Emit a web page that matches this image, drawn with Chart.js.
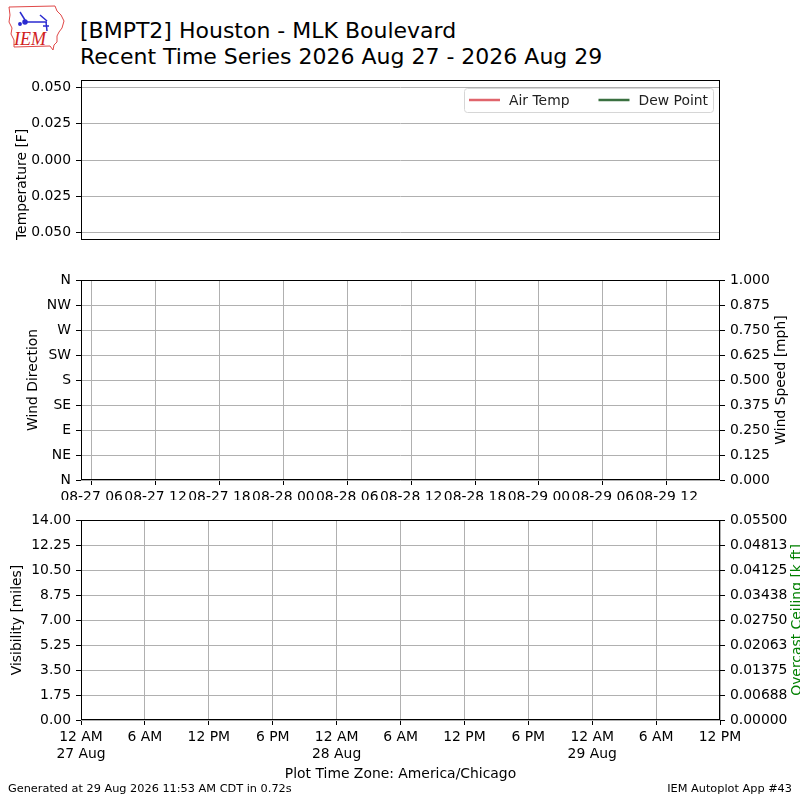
<!DOCTYPE html>
<html>
<head>
<meta charset="utf-8">
<script src="https://cdn.jsdelivr.net/npm/chart.js@4"></script>
<style>
  body { margin: 0; background: #fff; }
  #wrap { position: relative; width: 800px; height: 800px; overflow: hidden; font-family: "DejaVu Sans", sans-serif; color: #000; }
  #wrap canvas { position: absolute; left: 0; }
  .txt { position: absolute; white-space: nowrap; }
</style>
</head>
<body>
<div id="wrap">
  <svg class="txt" style="left:0;top:0" width="80" height="60" viewBox="0 0 80 60">
    <polyline fill="none" stroke="#e04848" stroke-width="1"
      points="9,7 55,6 57,11 61,15 64,21 62,28 59,32 57,36 57,42 54,45 53,50 50,46 14,47 14,40 11,34 12,28 9,22 10,15 9,7"/>
    <g stroke="#2a2ad0" stroke-width="1.5" fill="#2a2ad0">
      <line x1="24" y1="22" x2="47" y2="22"/>
      <circle cx="25" cy="22" r="2"/>
      <line x1="20" y1="12" x2="25" y2="20"/>
      <line x1="40" y1="15" x2="47" y2="21"/>
      <line x1="46" y1="22" x2="47" y2="31"/>
      <line x1="43" y1="26" x2="49" y2="26"/>
      <circle cx="20" cy="24" r="1.2"/>
    </g>
    <text x="14" y="45" fill="#d02020" font-family="Liberation Serif, serif" font-style="italic" font-size="18">IEM</text>
  </svg>
  <div class="txt" style="left:80px;top:18px;font-size:22px;line-height:26px">[BMPT2] Houston - MLK Boulevard<br>Recent Time Series 2026 Aug 27 - 2026 Aug 29</div>
  <canvas id="tempChart" width="800" height="200" style="top:60px"></canvas>
  <canvas id="windChart" width="800" height="240" style="top:260px"></canvas>
  <canvas id="visChart" width="800" height="300" style="top:500px"></canvas>
  <div class="txt" style="left:8px;top:782px;font-size:11.3px">Generated at 29 Aug 2026 11:53 AM CDT in 0.72s</div>
  <div class="txt" style="right:8px;top:782px;font-size:11.3px">IEM Autoplot App #43</div>
</div>
<script>
// hours since 27 Aug 00:00 CDT; no observations in the window
var airTemp = [];
var dewPoint = [];
var windDir = [];
var windSpeed = [];
var visibility = [];
var ceiling = [];

var tempTicks = [-0.05, -0.025, 0, 0.025, 0.05];
var tempTickLabels = ['0.050', '0.025', '0.000', '0.025', '0.050'];
var dirTickLabels = ['N', 'NE', 'E', 'SE', 'S', 'SW', 'W', 'NW', 'N'];
var speedTickLabels = ['0.000', '0.125', '0.250', '0.375', '0.500', '0.625', '0.750', '0.875', '1.000'];
var utcTickHours = [1, 7, 13, 19, 25, 31, 37, 43, 49, 55];
var utcTickLabels = ['08-27 06', '08-27 12', '08-27 18', '08-28 00', '08-28 06',
                     '08-28 12', '08-28 18', '08-29 00', '08-29 06', '08-29 12'];
var localTickHours = [0, 6, 12, 18, 24, 30, 36, 42, 48, 54, 60];
var localTickLabels = [['12 AM', '27 Aug'], '6 AM', '12 PM', '6 PM', ['12 AM', '28 Aug'], '6 AM',
                       '12 PM', '6 PM', ['12 AM', '29 Aug'], '6 AM', '12 PM'];
var visTickLabels = ['0.00', '1.75', '3.50', '5.25', '7.00', '8.75', '10.50', '12.25', '14.00'];
var ceilTickLabels = ['0.00000', '0.00688', '0.01375', '0.02063', '0.02750',
                      '0.03438', '0.04125', '0.04813', '0.05500'];

var FONT = { family: 'DejaVu Sans', size: 13.9 };
var GRID = '#b0b0b0';
Chart.defaults.color = '#000';
Chart.defaults.font.family = 'DejaVu Sans';

function setTicks(values) {
  return function (axis) { axis.ticks = values.map(function (v) { return { value: v }; }); };
}
function fixWidth(w) { return function (axis) { axis.width = w; }; }
function fixHeight(h) { return function (axis) { axis.height = h; }; }
function fromList(list) { return function (v, i) { return list[i]; }; }

var framePlugin = {
  id: 'frame',
  afterDraw: function (chart) {
    var a = chart.chartArea, c = chart.ctx;
    c.save();
    c.strokeStyle = '#000';
    c.lineWidth = 1;
    c.strokeRect(Math.round(a.left) + 0.5, Math.round(a.top) + 0.5,
                 Math.round(a.right - a.left) - 1, Math.round(a.bottom - a.top) - 1);
    c.restore();
  }
};

// right-hand axis titles read bottom-to-top, like matplotlib's twinx labels
var sideTitle = {
  id: 'sideTitle',
  afterDraw: function (chart, args, opts) {
    if (!opts.text) return;
    var a = chart.chartArea, c = chart.ctx;
    c.save();
    c.translate(opts.x, (a.top + a.bottom) / 2);
    c.rotate(-Math.PI / 2);
    c.font = FONT.size + 'px ' + FONT.family;
    c.fillStyle = opts.color || '#000';
    c.textAlign = 'center';
    c.textBaseline = 'middle';
    c.fillText(opts.text, 0, 0);
    c.restore();
  }
};

var innerLegend = {
  id: 'innerLegend',
  afterDraw: function (chart) {
    var a = chart.chartArea, c = chart.ctx;
    var sets = chart.data.datasets;
    c.save();
    c.font = FONT.size + 'px ' + FONT.family;
    var widths = sets.map(function (d) { return c.measureText(d.label).width; });
    var w = 5 + 5 + (sets.length - 1) * 29;
    widths.forEach(function (tw) { w += 40 + tw; });
    var h = 24;
    var x0 = a.right - 7 - w, y0 = a.top + 8;
    c.beginPath();
    c.roundRect(x0 + 0.5, y0 + 0.5, w, h, 3);
    c.fillStyle = 'rgba(255,255,255,0.8)';
    c.fill();
    c.strokeStyle = '#d6d6d6';
    c.stroke();
    var x = x0 + 5, yc = y0 + h / 2;
    sets.forEach(function (d, i) {
      c.strokeStyle = d.borderColor;
      c.lineWidth = 2.5;
      c.beginPath();
      c.moveTo(x, yc);
      c.lineTo(x + 31, yc);
      c.stroke();
      c.fillStyle = '#222';
      c.textBaseline = 'middle';
      c.fillText(d.label, x + 40, yc + 1);
      x += 40 + widths[i] + 29;
    });
    c.restore();
  }
};

var common = {
  responsive: false,
  animation: false
};

new Chart(document.getElementById('tempChart'), {
  type: 'line',
  data: {
    datasets: [
      { label: 'Air Temp', data: airTemp, borderColor: '#e0646c', borderWidth: 2 },
      { label: 'Dew Point', data: dewPoint, borderColor: '#3a7040', borderWidth: 2 }
    ]
  },
  options: Object.assign({}, common, {
    plugins: { legend: { display: false }, tooltip: { enabled: false } },
    layout: { padding: { top: 20, bottom: 20, left: 0, right: 80 } },
    scales: {
      x: { type: 'linear', min: 0, max: 60, display: false },
      y: {
        min: -0.055, max: 0.055,
        afterBuildTicks: setTicks(tempTicks),
        afterFit: fixWidth(81),
        ticks: { font: FONT, padding: 5, callback: fromList(tempTickLabels) },
        grid: { color: GRID, tickColor: '#000', tickLength: 5 },
        border: { display: false },
        title: { display: true, text: 'Temperature [F]', align: 'start', font: FONT, padding: { top: 14, bottom: 0 } }
      }
    }
  }),
  plugins: [framePlugin, innerLegend]
});

new Chart(document.getElementById('windChart'), {
  type: 'scatter',
  data: {
    datasets: [
      { label: 'Wind Direction', data: windDir, yAxisID: 'y' },
      { label: 'Wind Speed', data: windSpeed, yAxisID: 'y1' }
    ]
  },
  options: Object.assign({}, common, {
    plugins: {
      legend: { display: false }, tooltip: { enabled: false },
      sideTitle: { text: 'Wind Speed [mph]', x: 781 }
    },
    layout: { padding: { top: 20, bottom: 0, left: 0, right: 0 } },
    scales: {
      x: {
        type: 'linear', min: 0, max: 60,
        afterBuildTicks: setTicks(utcTickHours),
        afterFit: fixHeight(20),
        ticks: { font: FONT, padding: 4, maxRotation: 0, autoSkip: false, callback: fromList(utcTickLabels) },
        grid: { color: GRID, tickColor: '#000', tickLength: 5 },
        border: { display: false }
      },
      y: {
        min: 0, max: 360,
        afterBuildTicks: setTicks([0, 45, 90, 135, 180, 225, 270, 315, 360]),
        afterFit: fixWidth(81),
        ticks: { font: FONT, padding: 5, callback: fromList(dirTickLabels) },
        grid: { color: GRID, tickColor: '#000', tickLength: 5 },
        border: { display: false },
        title: { display: true, text: 'Wind Direction', font: FONT, padding: { top: 25, bottom: 0 } }
      },
      y1: {
        position: 'right',
        min: 0, max: 1,
        afterBuildTicks: setTicks([0, 0.125, 0.25, 0.375, 0.5, 0.625, 0.75, 0.875, 1]),
        afterFit: fixWidth(80),
        ticks: { font: FONT, padding: 5, callback: fromList(speedTickLabels) },
        grid: { drawOnChartArea: false, tickColor: '#000', tickLength: 5 },
        border: { display: false }
      }
    }
  }),
  plugins: [framePlugin, sideTitle]
});

new Chart(document.getElementById('visChart'), {
  type: 'line',
  data: {
    datasets: [
      { label: 'Visibility', data: visibility, yAxisID: 'y' },
      { label: 'Overcast Ceiling', data: ceiling, yAxisID: 'y1', borderColor: 'green' }
    ]
  },
  options: Object.assign({}, common, {
    plugins: {
      legend: { display: false }, tooltip: { enabled: false },
      sideTitle: { text: 'Overcast Ceiling [k ft]', x: 797, color: 'green' }
    },
    layout: { padding: { top: 20, bottom: 13, left: 0, right: 0 } },
    scales: {
      x: {
        type: 'linear', min: 0, max: 60,
        afterBuildTicks: setTicks(localTickHours),
        afterFit: fixHeight(67),
        ticks: { font: FONT, padding: 4, maxRotation: 0, autoSkip: false, callback: fromList(localTickLabels) },
        grid: { color: GRID, tickColor: '#000', tickLength: 5 },
        border: { display: false },
        title: { display: true, text: 'Plot Time Zone: America/Chicago', font: FONT }
      },
      y: {
        min: 0, max: 14,
        afterBuildTicks: setTicks([0, 1.75, 3.5, 5.25, 7, 8.75, 10.5, 12.25, 14]),
        afterFit: fixWidth(81),
        ticks: { font: FONT, padding: 5, callback: fromList(visTickLabels) },
        grid: { color: GRID, tickColor: '#000', tickLength: 5 },
        border: { display: false },
        title: { display: true, text: 'Visibility [miles]', font: FONT, padding: { top: 9, bottom: 0 } }
      },
      y1: {
        position: 'right',
        min: 0, max: 0.055,
        afterBuildTicks: setTicks(ceilTickLabels.map(function (s, i) { return i * 0.055 / 8; })),
        afterFit: fixWidth(80),
        ticks: { font: FONT, padding: 5, callback: fromList(ceilTickLabels) },
        grid: { drawOnChartArea: false, tickColor: '#000', tickLength: 5 },
        border: { display: false }
      }
    }
  }),
  plugins: [framePlugin, sideTitle]
});
</script>
</body>
</html>
